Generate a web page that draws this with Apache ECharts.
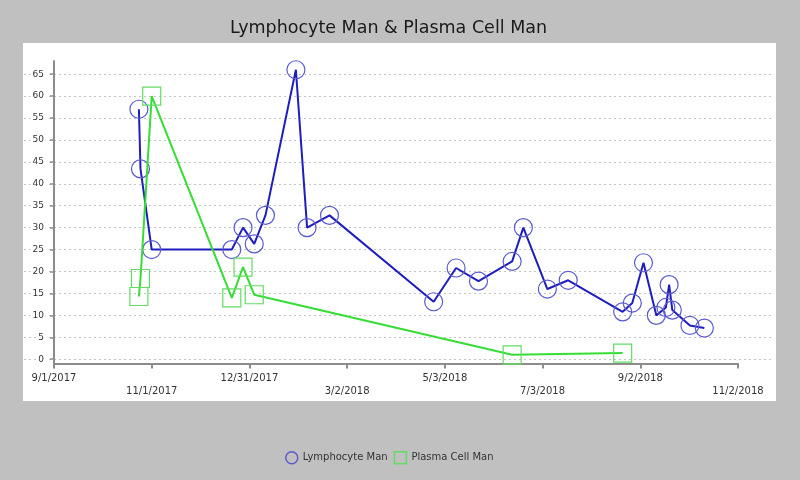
<!DOCTYPE html>
<html><head><meta charset="utf-8">
<script src="https://cdn.jsdelivr.net/npm/echarts@6/dist/echarts.min.js"></script>
<style>html,body{margin:0;padding:0;background:#c0c0c0}#c{width:800px;height:480px}</style>
</head><body><div id="c"></div>
<script>
// ---- data ----
const titleText = 'Lymphocyte Man & Plasma Cell Man';
const axisStart = '2017-09-01';
const tickStepDays = 61;
const xTickLabels = ['9/1/2017','11/1/2017','12/31/2017','3/2/2018','5/3/2018','7/3/2018','9/2/2018','11/2/2018'];
const yTickValues = [0,5,10,15,20,25,30,35,40,45,50,55,60,65];
const lymphName = 'Lymphocyte Man';
const lymphDates = ['2017-10-24','2017-10-25','2017-11-01','2017-12-21','2017-12-28','2018-01-04','2018-01-11','2018-01-30','2018-02-06','2018-02-20','2018-04-26','2018-05-10','2018-05-24','2018-06-14','2018-06-21','2018-07-06','2018-07-19','2018-08-22','2018-08-28','2018-09-04','2018-09-12','2018-09-18','2018-09-20','2018-09-22','2018-10-03','2018-10-12'];
const lymphValues = [57,43.4,25,25,30,26.3,32.8,66,30,32.8,13.1,20.8,17.8,22.3,30,16,18,10.8,12.8,22,10,11.8,17,11.2,7.7,7.1];
const plasmaName = 'Plasma Cell Man';
const plasmaDates = ['2017-10-24','2017-10-25','2017-11-01','2017-12-21','2017-12-28','2018-01-04','2018-06-14','2018-08-22'];
const plasmaValues = [14.3,18.4,60,14,21,14.7,1,1.4];

// ---- helpers ----
const DAY = 86400000;
const t0 = Date.parse(axisStart);
const toDay = d => (Date.parse(d) - t0) / DAY;
const xMax = tickStepDays * (xTickLabels.length - 1);
const pairs = (ds, vs) => ds.map((d, i) => [toDay(d), vs[i]]);

const FONT = 'DejaVu Sans';
const axisGray = '#8c8c8c';
const blueLine = '#1e1ebe', blueMark = '#5b5bd0';
const greenLine = '#35dd35', greenMark = '#62dc62';

const chart = echarts.init(document.getElementById('c'), null, {renderer: 'canvas'});
chart.setOption({
  backgroundColor: '#c0c0c0',
  animation: false,
  textStyle: {fontFamily: FONT},
  title: {
    text: titleText, left: 230, top: 19, padding: 0,
    textStyle: {fontFamily: FONT, fontSize: 17.5, fontWeight: 'normal', color: '#1a1a1a'}
  },
  graphic: [{
    type: 'rect', z: -100, silent: true,
    shape: {x: 23, y: 43, width: 753, height: 358},
    style: {fill: '#ffffff'}
  }],
  legend: {
    left: 285, top: 451, padding: 0, itemWidth: 12, itemHeight: 12, itemGap: 6,
    textStyle: {fontFamily: FONT, fontSize: 10, color: '#333'},
    data: [
      {name: lymphName, icon: 'circle', itemStyle: {color: 'rgba(0,0,0,0)', borderColor: blueMark, borderWidth: 1.5}},
      {name: plasmaName, icon: 'rect', itemStyle: {color: 'rgba(0,0,0,0)', borderColor: greenMark, borderWidth: 1.5}}
    ]
  },
  grid: [
    {left: 24, right: 26, top: 61, height: 298.2},
    {left: 54, right: 62, top: 61, height: 302.6}
  ],
  xAxis: [
    {gridIndex: 0, type: 'value', show: false, min: 0, max: 1},
    {
      gridIndex: 1, type: 'value', min: 0, max: xMax, interval: tickStepDays,
      axisLine: {show: true, onZero: false, lineStyle: {color: axisGray, width: 2}},
      axisTick: {show: true, length: 5, lineStyle: {color: axisGray, width: 2}},
      splitLine: {show: false},
      axisLabel: {
        color: '#333', fontSize: 10, fontFamily: FONT, lineHeight: 13, margin: 8,
        showMinLabel: true, showMaxLabel: true,
        formatter: v => {
          const i = Math.round(v / tickStepDays);
          const s = xTickLabels[i] || '';
          return i % 2 ? '\n' + s : s;
        }
      }
    }
  ],
  yAxis: [
    {
      gridIndex: 0, type: 'value', min: 0, max: 68, interval: 5,
      axisLine: {show: false}, axisTick: {show: false}, axisLabel: {show: false},
      splitLine: {show: true, showMinLine: true, showMaxLine: false, lineStyle: {color: '#c4c4c4', width: 1, type: [2, 3]}}
    },
    {
      gridIndex: 1, type: 'value', min: -1, max: 68, interval: 5,
      axisLine: {show: true, onZero: false, lineStyle: {color: axisGray, width: 2}},
      axisTick: {show: true, length: 4, customValues: yTickValues, lineStyle: {color: axisGray, width: 1.5}},
      splitLine: {show: false},
      axisLabel: {
        customValues: yTickValues, color: '#333', fontSize: 9, fontFamily: FONT, margin: 8,
        backgroundColor: '#fff', padding: [0, 2],
        formatter: v => (yTickValues.indexOf(v) >= 0 ? String(v) : '')
      }
    }
  ],
  series: [
    {
      type: 'line', name: lymphName, xAxisIndex: 1, yAxisIndex: 1,
      data: pairs(lymphDates, lymphValues),
      symbol: 'circle', symbolSize: 18,
      itemStyle: {color: 'rgba(0,0,0,0)', borderColor: blueMark, borderWidth: 1.2},
      lineStyle: {color: blueLine, width: 2},
      emphasis: {disabled: true}, z: 3
    },
    {
      type: 'line', name: plasmaName, xAxisIndex: 1, yAxisIndex: 1,
      data: pairs(plasmaDates, plasmaValues),
      symbol: 'rect', symbolSize: 18,
      itemStyle: {color: 'rgba(0,0,0,0)', borderColor: greenMark, borderWidth: 1.2},
      lineStyle: {color: greenLine, width: 2},
      emphasis: {disabled: true}, z: 4
    }
  ]
});
</script>
</body></html>
